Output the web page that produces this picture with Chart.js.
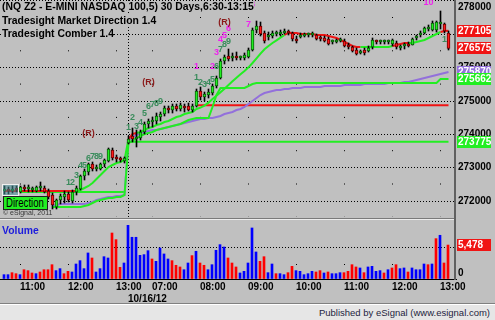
<!DOCTYPE html>
<html>
<head>
<meta charset="utf-8">
<script src="https://cdn.jsdelivr.net/npm/chart.js"></script>
<style>
  body { margin: 0; background: #c0c0c0; }
  #frame { position: relative; width: 495px; height: 320px; overflow: hidden; background: #c0c0c0; font-family: "Liberation Sans", Arial, sans-serif; }
  canvas { position: absolute; left: 0; }
  #price { top: 0; }
  #volume { top: 219px; }
  .titles { position: absolute; left: 2px; top: 0; font: bold 10.4px/13.5px "Liberation Sans", Arial, sans-serif; color: #000; }
  .titles span { background: #c0c0c0; }
  .vol-title { position: absolute; left: 2px; top: 224px; font: bold 10.4px/13.5px "Liberation Sans", Arial, sans-serif; color: #1c1cdc; }
  .sep-dark { position: absolute; left: 0; top: 218px; width: 456px; height: 1px; background: #7a7a7a; }
  .sep-light { position: absolute; left: 0; top: 219px; width: 456px; height: 1px; background: #ececec; }
  .axis-line { position: absolute; left: 454px; top: 0; width: 2px; height: 280px; background: #606060; }
  .legend-box { position: absolute; left: 2px; top: 184px; width: 15px; height: 10px; background: rgba(70, 140, 150, 0.55); border: 1px solid #f0f0f0; }
  .direction { position: absolute; left: 3px; top: 196px; width: 43px; height: 12px; background: #22ee22; border: 1px solid #202020; overflow: hidden; }
  .direction span { position: absolute; left: 2px; top: 0; font: 12px/12px "Liberation Sans", Arial, sans-serif; color: #000; transform: scaleX(0.8); transform-origin: 0 0; white-space: nowrap; }
  .copy { position: absolute; left: 3px; top: 209px; font: 7px/8px "Liberation Sans", Arial, sans-serif; color: #383838; }
  .footer { position: absolute; left: 0; top: 303px; width: 495px; height: 17px; background: #e6e6e6; border-top: 1px solid #808080; box-shadow: inset 0 1px 0 #ffffff; }
  .footer span { position: absolute; right: 5px; top: 2px; font: 9.5px/14px "Liberation Sans", Arial, sans-serif; color: #1e1e40; }
</style>
</head>
<body>
<div id="frame">
  <canvas id="price" width="495" height="218"></canvas>
  <canvas id="volume" width="495" height="87"></canvas>
  <div class="sep-dark"></div>
  <div class="sep-light"></div>
  <div class="axis-line"></div>
  <div class="titles">
    <span>(NQ Z2 - E-MINI NASDAQ 100,5) 30 Days,6:30-13:15</span><br>
    <span>Tradesight Market Direction 1.4</span><br>
    <span>Tradesight Comber 1.4</span>
  </div>
  <div class="vol-title">Volume</div>
  <div class="legend-box"></div>
  <div class="direction"><span>Direction</span></div>
  <div class="copy">© eSignal, 2011</div>
  <div class="footer"><span>Published by eSignal (www.esignal.com)</span></div>
</div>

<script>
// Barre da 5 minuti: dalle 10:40 del 15/10 alle 13:10 del 16/10 (indice 0..111).
// L'indice 31 è la prima barra della nuova sessione (6:30).
const openP = [
  272300, 272330, 272300, 272360, 272270, 272390, 272360, 272330, 272300, 272390,
  272390, 272300, 272180, 271820, 272030, 272120, 272210, 272000, 272270, 272360,
  272750, 272870, 273110, 272960, 272960, 273110, 273200, 273530, 273290, 273260,
  273200,
  273740, 273950, 273860, 273890, 274070, 274310, 274370, 274400, 274520, 274610,
  274760, 274730, 274850, 274760, 274850, 274850, 274730, 274850, 275300, 275120,
  275180, 275240, 275450, 275690, 276200, 276350, 276290, 276320, 276290, 276290,
  276320, 276530, 277130, 277250, 277040, 276920, 276950, 277010, 277010, 277040,
  277070, 277040, 276860, 276920, 276950, 276980, 276980, 276980, 276890, 276890,
  276860, 276770, 276770, 276800, 276800, 276650, 276620, 276530, 276440, 276530,
  276500, 276620, 276800, 276770, 276770, 276770, 276710, 276740, 276590, 276650,
  276710, 276680, 276890, 276980, 277040, 277160, 277130, 277130, 277310, 277310,
  277040
];
const highP = [
  272450, 272420, 272450, 272450, 272450, 272480, 272480, 272420, 272450, 272570,
  272450, 272360, 272240, 272060, 272210, 272300, 272270, 272330, 272450, 272780,
  272960, 273140, 273170, 273080, 273140, 273260, 273590, 273590, 273380, 273320,
  273320,
  273950, 274190, 274130, 274130, 274370, 274460, 274520, 274640, 274670, 274850,
  274850, 274910, 274910, 274940, 274910, 274940, 274910, 275360, 275420, 275270,
  275360, 275510, 275750, 276260, 276380, 276560, 276440, 276470, 276350, 276440,
  276590, 277190, 277400, 277370, 277100, 277070, 277100, 277100, 277130, 277160,
  277130, 277070, 276950, 277040, 277040, 277040, 277070, 277010, 276950, 276950,
  276920, 276830, 276860, 276890, 276860, 276740, 276650, 276590, 276530, 276590,
  276650, 276890, 276830, 276830, 276830, 276830, 276860, 276800, 276680, 276740,
  276770, 276890, 276980, 277100, 277220, 277280, 277400, 277400, 277700, 277340,
  277100
];
const lowP = [
  272210, 272210, 272240, 272270, 272240, 272300, 272270, 272270, 272270, 272300,
  272240, 272060, 271760, 271760, 271910, 271940, 271970, 271940, 272180, 272330,
  272630, 272780, 272900, 272900, 272930, 273020, 273170, 273230, 273170, 273170,
  273140,
  273710, 273770, 273620, 273830, 274010, 274190, 274220, 274310, 274400, 274550,
  274640, 274640, 274700, 274700, 274670, 274700, 274670, 274820, 275030, 275000,
  275090, 275180, 275390, 275660, 276110, 276200, 276200, 276230, 276230, 276230,
  276290, 276500, 277040, 276950, 276740, 276830, 276890, 276950, 276950, 277010,
  276980, 276800, 276740, 276890, 276920, 276920, 276920, 276830, 276800, 276770,
  276680, 276710, 276740, 276770, 276620, 276560, 276470, 276380, 276410, 276380,
  276470, 276560, 276710, 276710, 276710, 276710, 276650, 276560, 276530, 276560,
  276620, 276680, 276830, 276920, 277010, 277100, 277100, 277070, 277160, 277040,
  276530
];
const closeP = [
  272330, 272300, 272360, 272330, 272420, 272360, 272360, 272360, 272420, 272390,
  272270, 272120, 271880, 272030, 272150, 272210, 272030, 272270, 272390, 272750,
  272900, 273110, 272960, 272990, 273110, 273230, 273560, 273290, 273260, 273230,
  273290,
  273860, 273860, 273920, 274070, 274310, 274400, 274430, 274550, 274610, 274790,
  274730, 274850, 274760, 274880, 274790, 274730, 274850, 275300, 275120, 275210,
  275270, 275450, 275690, 276200, 276320, 276260, 276350, 276290, 276290, 276380,
  276530, 277130, 277250, 277010, 276800, 276950, 277040, 277010, 277070, 277100,
  277040, 276860, 276800, 276980, 276980, 276980, 277010, 276860, 276860, 276800,
  276710, 276770, 276800, 276830, 276650, 276620, 276500, 276410, 276500, 276440,
  276590, 276830, 276770, 276770, 276770, 276800, 276830, 276620, 276650, 276680,
  276650, 276860, 276950, 277040, 277190, 277220, 277340, 277370, 277370, 277100,
  276575
];

// Volumi e direzione della barra (1 = barra in calo, disegnata in rosso).
const volume = [
  700, 700, 1020, 860, 700, 1500, 1350, 970, 860, 1130,
  1500, 1500, 2310, 1350, 1670, 860, 1240, 1130, 2420, 2960,
  1670, 4200, 3390, 1130, 1670, 3600, 3390, 7420, 6350, 1880,
  2580,
  8660, 6730, 6730, 3820, 3930, 4570, 3230, 2850, 5000, 4040,
  3230, 2960, 2210, 1940, 1500, 2580, 3770, 4470, 2580, 2210,
  1500, 2310, 4630, 5540, 5160, 3390, 2580, 1940, 970, 1240,
  2580, 8230, 4360, 2850, 3600, 1020, 2420, 860, 860, 700,
  1020, 2040, 1350, 1240, 700, 860, 1240, 1130, 1350, 970,
  1130, 860, 860, 1020, 1020, 1240, 2310, 1940, 1780, 1020,
  1940, 2040, 1240, 1350, 970, 1500, 1780, 2310, 1670, 1780,
  1130, 1780, 1500, 1500, 2420, 2310, 2420, 6510, 7050, 2580,
  5478
];
const volumeDown = [
  0, 0, 1, 1, 0, 1, 1, 1, 0, 1,
  1, 1, 1, 0, 0, 1, 1, 0, 0, 0,
  0, 0, 1, 0, 0, 0, 0, 1, 1, 1,
  0,
  0, 0, 0, 0, 0, 0, 1, 0, 0, 0,
  0, 1, 1, 1, 0, 0, 1, 0, 1, 1,
  0, 0, 0, 0, 0, 1, 1, 1, 0, 0,
  0, 0, 0, 1, 1, 0, 0, 1, 0, 0,
  1, 1, 0, 0, 0, 0, 0, 1, 1, 0,
  1, 0, 0, 0, 1, 1, 1, 1, 0, 1,
  0, 0, 0, 0, 1, 0, 1, 1, 0, 0,
  1, 0, 0, 0, 0, 1, 0, 1, 0, 1,
  1
];

// Linea "Market Direction": valore e stato (1 = rossa, 0 = verde).
const directionLine = [
  272300, 272300, 272300, 272300, 272300, 272300, 272300, 272300, 272300, 272300,
  272300, 272300, 272300, 272300, 272300, 272300, 272300, 272300, 272300, 272330,
  272390, 272450, 272540, 272660, 272780, 272900, 273020, 273080, 273140, 273170,
  273230,
  273860, 274010, 274040, 274070, 274130, 274190, 274220, 274280, 274310, 274370,
  274400, 274460, 274520, 274550, 274610, 274640, 274670, 274760, 274800, 274860,
  274950, 275060, 275160, 275260, 275370, 275480, 275590, 275700, 275800, 275900,
  276010, 276140, 276280, 276420, 276550, 276650, 276740, 276820, 276900, 276980,
  277050, 277040, 277040, 277010, 277010, 277010, 277010, 276980, 276980, 276980,
  276950, 276920, 276890, 276830, 276770, 276710, 276650, 276620, 276620, 276620,
  276620, 276620, 276620, 276620, 276620, 276620, 276650, 276680, 276710, 276740,
  276740, 276740, 276770, 276800, 276830, 276890, 276950, 277010, 277070, 277100,
  277105
];
const directionDown = [
  1, 1, 1, 1, 1, 1, 1, 1, 1, 1,
  1, 1, 1, 1, 1, 1, 1, 1, 1, 0,
  0, 0, 0, 0, 0, 0, 0, 0, 0, 0,
  0,
  0, 1, 1, 0, 0, 0, 0, 0, 0, 0,
  0, 0, 0, 0, 0, 0, 0, 0, 0, 0,
  0, 0, 0, 0, 0, 0, 0, 0, 0, 0,
  0, 0, 0, 0, 0, 0, 0, 0, 0, 0,
  1, 1, 1, 1, 1, 1, 1, 1, 1, 1,
  1, 1, 1, 1, 1, 1, 1, 1, 1, 0,
  0, 0, 0, 0, 0, 0, 0, 1, 1, 1,
  1, 0, 0, 0, 0, 0, 0, 0, 0, 1,
  1
];

// Linea "Comber" verde (stop a gradini) e media lenta viola.
const comberLine = [
  null, null, null, null, null, null, null, null, null, null,
  null, null, 271820, 271820, 271820, 271820, 271820, 271820, 271820, 271820,
  271850, 271880, 271940, 272000, 272030, 272060, 272090, 272090, 272120, 272120,
  272180,
  273740, 273800, 273890, 273950, 274010, 274040, 274070, 274130, 274160, 274190,
  274220, 274250, 274280, 274310, 274370, 274430, 274460, 274490, 274490, 274490,
  274490, 274820, 275180, 275390, 275390, 275390, 275390, 275390, 275390, 275390,
  275450, 275510, 275540, 275540, 275540, 275540, 275540, 275540, 275540, 275540,
  275540, 275540, 275540, 275540, 275540, 275540, 275540, 275540, 275540, 275540,
  275540, 275540, 275540, 275540, 275540, 275540, 275540, 275540, 275540, 275540,
  275540, 275540, 275540, 275540, 275540, 275540, 275540, 275540, 275540, 275540,
  275540, 275540, 275540, 275540, 275540, 275540, 275540, 275540, 275662, 275662,
  275662
];
const slowLine = [
  null, null, null, null, null, null, null, null, null, null,
  null, null, 271850, 271880, 271910, 271910, 271910, 271910, 271910, 271910,
  271910, 271940, 271970, 272030, 272060, 272090, 272120, 272120, 272150, 272150,
  272180,
  273830, 273920, 273980, 274040, 274070, 274100, 274130, 274130, 274160, 274190,
  274220, 274250, 274280, 274310, 274340, 274370, 274400, 274430, 274460, 274460,
  274490, 274490, 274520, 274550, 274610, 274640, 274670, 274730, 274760, 274820,
  274910, 275000, 275090, 275180, 275240, 275270, 275300, 275330, 275330, 275360,
  275360, 275390, 275390, 275390, 275420, 275420, 275420, 275420, 275420, 275450,
  275450, 275450, 275450, 275450, 275480, 275480, 275480, 275480, 275480, 275510,
  275510, 275510, 275510, 275510, 275510, 275540, 275540, 275540, 275540, 275570,
  275570, 275600, 275630, 275660, 275690, 275720, 275750, 275780, 275810, 275840,
  275870
];

// Livelli orizzontali: supporti verdi e resistenza rossa (valore, barra iniziale, barra finale).
const supportLevels = [272270, 273775];
const supportFrom = [4, 31];
const supportTo = [30, 111];
const resistLevels = [274870];
const resistFrom = [48];
const resistTo = [111];

// Conteggi e segnali (R) scritti sopra le barre.
const markText = [
  '1', '2', '3', '4', '5', '6', '7', '8', '9', '(R)',
  '1', '2', '3', '4', '5', '6', '7', '8', '9', '(R)',
  '1', '2', '3', '4', '5', '6', '7', '8', '9',
  '1', '2', '3', '4', '5', '6', '7', '8', '10', '(R)', '1'
];
const markBar = [
  16, 17, 18, 19, 20, 21, 22, 23, 24, 21,
  31, 32, 33, 34, 35, 36, 37, 38, 39, 36,
  48, 49, 50, 51, 52, 53, 54, 55, 56,
  48, 52, 53, 54, 55, 56, 61, 62, 106, 55, 110
];
const markPrice = [
  272540, 272540, 272750, 273050, 273050, 273260, 273320, 273320, 273320, 274010,
  274190, 274490, 274220, 274340, 274610, 274820, 274880, 274910, 274970, 275540,
  275690, 275540, 275480, 275540, 275630, 276020, 276530, 276680, 276770,
  276020, 276020, 276440, 276830, 276950, 277160, 277280, 277880, 277940, 277340, 276830
];
const markKind = [
  'g', 'g', 'g', 'g', 'g', 'g', 'g', 'g', 'g', 'r',
  'g', 'g', 'g', 'g', 'g', 'g', 'g', 'g', 'g', 'r',
  'g', 'g', 'g', 'g', 'g', 'g', 'g', 'g', 'g',
  'm', 'm', 'm', 'm', 'm', 'm', 'm', 'm', 'm', 'r', 'g'
];

// Asse dei tempi: una tacca per ogni ora, più il cambio di giornata.
const hourTicks = [4, 16, 28, 37, 49, 61, 73, 85, 97, 109];
const hourLabels = ['11:00', '12:00', '13:00', '07:00', '08:00', '09:00', '10:00', '11:00', '12:00', '13:00'];
const dayBreakBar = 31;
const dayLabel = '10/16/12';
const priceTicks = [272000, 273000, 274000, 275000, 276000, 277000, 278000];
const volumeTicks = [0, 5000];

document.addEventListener("DOMContentLoaded", () => {
  const FONT = '"Liberation Sans", Arial, sans-serif';
  Chart.defaults.font.family = FONT;

  const GREEN = "#22ee22";
  const RED = "#f01414";
  const PURPLE = "#9370db";
  const UP = "#22ee22";
  const DOWN = "#ff1a1a";
  const UP_EDGE = "#0b5a0b";
  const DOWN_EDGE = "#6a0000";
  const markColors = { g: "#3a8c5c", m: "#ee22ee", r: "#8b1a1a" };

  // Trasformiamo una serie in punti {x, y} con x = indice della barra.
  const toPoints = (arr) => arr.map((v, i) => ({ x: i, y: v }));
  const levelPoints = (v, a, b) => [{ x: a, y: v }, { x: b, y: v }];
  const isDayBreak = (ctx) => ctx.tick && ctx.tick.value === dayBreakBar;
  const isUp = (i) => closeP[i] >= openP[i];

  // --- PANNELLO PREZZI ---
  const priceExtras = {
    id: "priceExtras",
    afterDatasetsDraw(chart) {
      const { ctx, scales: { x, y } } = chart;
      ctx.save();
      ctx.textAlign = "center";
      ctx.textBaseline = "middle";
      ctx.font = "bold 9px " + FONT;
      markText.forEach((t, k) => {
        ctx.fillStyle = markColors[markKind[k]];
        ctx.fillText(t, x.getPixelForValue(markBar[k]), y.getPixelForValue(markPrice[k]));
      });
      ctx.restore();
    },
    afterDraw(chart) {
      const { ctx, scales: { y } } = chart;
      const left = chart.chartArea.right + 2;
      ctx.save();
      ctx.font = "bold 10px " + FONT;
      ctx.textAlign = "left";
      ctx.textBaseline = "middle";
      ctx.fillStyle = "#000";
      y.ticks.forEach((t) => {
        const py = Math.max(y.getPixelForValue(t.value), 7);
        ctx.fillText(String(t.value), left, py);
      });
      // Riquadri colorati con l'ultimo valore di ogni linea
      const last = closeP.length - 1;
      const tags = [
        [slowLine[last], PURPLE],
        [comberLine[last], GREEN],
        [supportLevels[1], GREEN],
        [directionLine[last], RED],
        [closeP[last], RED],
      ];
      tags.forEach(([v, bg]) => {
        const py = Math.round(y.getPixelForValue(v));
        ctx.fillStyle = bg;
        ctx.fillRect(left - 1, py - 6, 34, 12);
        ctx.fillStyle = "#fff";
        ctx.fillText(String(v), left, py + 0.5);
      });
      ctx.restore();
    },
  };

  const lineSet = (data, color, order) => ({
    type: "line", data, borderColor: color, borderWidth: 2,
    pointRadius: 0, tension: 0, spanGaps: false, order,
  });

  const priceDatasets = [
    {
      // corpi delle candele
      type: "bar",
      data: openP.map((o, i) => ({ x: i, y: [o, closeP[i]] })),
      backgroundColor: (c) => (isUp(c.dataIndex) ? UP : DOWN),
      borderColor: (c) => (isUp(c.dataIndex) ? UP_EDGE : DOWN_EDGE),
      borderWidth: 1,
      borderSkipped: false,
      barThickness: 3,
      minBarLength: 2,
      grouped: false,
      order: 0,
    },
    {
      // ombre (massimo/minimo)
      type: "bar",
      data: lowP.map((l, i) => ({ x: i, y: [l, highP[i]] })),
      backgroundColor: "#000",
      barThickness: 1,
      grouped: false,
      order: 1,
    },
    {
      ...lineSet(toPoints(directionLine), GREEN, 2),
      segment: { borderColor: (c) => (directionDown[c.p1DataIndex] ? RED : GREEN) },
    },
    lineSet(toPoints(comberLine), GREEN, 3),
    lineSet(toPoints(slowLine), PURPLE, 4),
  ];
  supportLevels.forEach((v, k) => {
    priceDatasets.push(lineSet(levelPoints(v, supportFrom[k], supportTo[k]), GREEN, 5));
  });
  resistLevels.forEach((v, k) => {
    priceDatasets.push(lineSet(levelPoints(v, resistFrom[k], resistTo[k]), RED, 5));
  });

  new Chart(document.getElementById("price"), {
    type: "bar",
    data: { datasets: priceDatasets },
    options: {
      animation: false,
      responsive: false,
      events: [],
      layout: { padding: { left: 0, right: 39, top: 0, bottom: 1 } },
      plugins: { legend: { display: false }, tooltip: { enabled: false } },
      scales: {
        x: {
          type: "linear",
          min: -1.125,
          max: 112.875,
          offset: false,
          afterBuildTicks: (s) => {
            s.ticks = [...hourTicks, dayBreakBar].sort((a, b) => a - b).map((v) => ({ value: v }));
          },
          ticks: { display: false },
          grid: { offset: false, drawTicks: false, color: "#000", lineWidth: 1 },
          border: {
            display: false,
            dash: (c) => (isDayBreak(c) ? [1, 2] : [1, 32.3]),
            dashOffset: (c) => (isDayBreak(c) ? 0 : 16.3),
          },
        },
        y: {
          type: "linear",
          position: "right",
          min: 271520,
          max: 278030,
          afterBuildTicks: (s) => {
            s.ticks = priceTicks.map((v) => ({ value: v }));
          },
          ticks: { display: false },
          grid: { drawTicks: false, color: "#000", lineWidth: 1 },
          border: { display: false, dash: [1, 2] },
        },
      },
    },
    plugins: [priceExtras],
  });

  // --- PANNELLO VOLUMI ---
  const volumeExtras = {
    id: "volumeExtras",
    afterDraw(chart) {
      const { ctx, scales: { y } } = chart;
      const left = chart.chartArea.right + 2;
      ctx.save();
      ctx.font = "bold 10px " + FONT;
      ctx.textAlign = "left";
      ctx.textBaseline = "middle";
      ctx.fillStyle = "#000";
      y.ticks.forEach((t) => {
        const py = Math.min(y.getPixelForValue(t.value), chart.chartArea.bottom - 6);
        ctx.fillText(String(t.value), left, py);
      });
      const last = volume.length - 1;
      const py = Math.round(y.getPixelForValue(volume[last]));
      ctx.fillStyle = volumeDown[last] ? RED : "#0000ff";
      ctx.fillRect(left - 1, py - 6, 34, 12);
      ctx.fillStyle = "#fff";
      ctx.fillText(volume[last].toLocaleString("en-US"), left, py + 0.5);
      ctx.restore();
    },
  };

  new Chart(document.getElementById("volume"), {
    type: "bar",
    data: {
      datasets: [
        {
          data: toPoints(volume),
          backgroundColor: (c) => (volumeDown[c.dataIndex] ? "#ff0000" : "#0000ff"),
          barThickness: 2,
          grouped: false,
        },
      ],
    },
    options: {
      animation: false,
      responsive: false,
      events: [],
      layout: { padding: { left: 0, right: 39, top: 1, bottom: 0 } },
      plugins: { legend: { display: false }, tooltip: { enabled: false } },
      scales: {
        x: {
          type: "linear",
          min: -1,
          max: 113,
          offset: false,
          afterBuildTicks: (s) => {
            s.ticks = [...hourTicks, dayBreakBar].sort((a, b) => a - b).map((v) => ({ value: v }));
          },
          afterFit: (s) => {
            s.height = 27;
          },
          ticks: {
            display: true,
            align: "start",
            autoSkip: false,
            maxRotation: 0,
            minRotation: 0,
            padding: 2,
            color: "#000",
            font: { size: 10, weight: "bold", lineHeight: 1.2 },
            callback: (value) => {
              const k = hourTicks.indexOf(value);
              if (k >= 0) return hourLabels[k];
              if (value === dayBreakBar) return ["", dayLabel];
              return "";
            },
          },
          grid: {
            offset: false,
            drawTicks: false,
            lineWidth: 1,
            color: (c) => (isDayBreak(c) ? "rgba(0,0,0,0)" : "#000"),
          },
          border: { display: true, color: "#000", width: 1, dash: [1, 50], dashOffset: 7 },
        },
        y: {
          type: "linear",
          position: "right",
          min: 0,
          max: 9516,
          afterBuildTicks: (s) => {
            s.ticks = volumeTicks.map((v) => ({ value: v }));
          },
          ticks: { display: false },
          grid: { drawTicks: false, color: "#000", lineWidth: 1 },
          border: { display: false, dash: [1, 2] },
        },
      },
    },
    plugins: [volumeExtras],
  });
});
</script>
</body>
</html>
